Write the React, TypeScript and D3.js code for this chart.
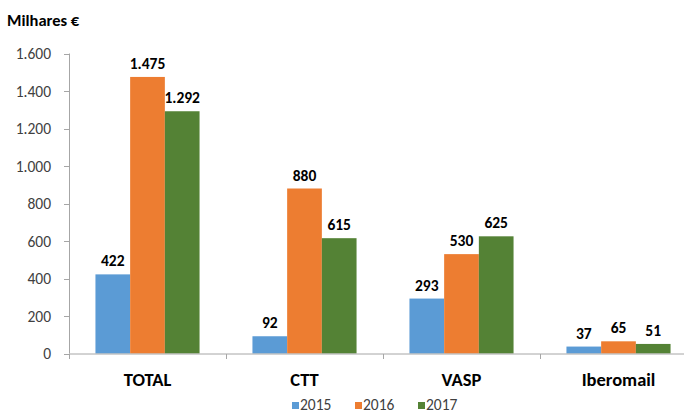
import React, { useEffect, useRef } from "react";
import * as d3 from "d3";

const categories = ["TOTAL", "CTT", "VASP", "Iberomail"];
const years = ["2015", "2016", "2017"];
const values2015 = [422, 92, 293, 37];
const values2016 = [1475, 880, 530, 65];
const values2017 = [1292, 615, 625, 51];
const yTicks = [0, 200, 400, 600, 800, 1000, 1200, 1400, 1600];
const colors = ["#5B9BD5", "#ED7D31", "#548235"];

const W = 684;
const H = 414;
const FONT = "Calibri, Carlito, Lato, 'Open Sans', 'Liberation Sans', sans-serif";

const fmt = (v: number) => d3.format(",")(v).replace(/,/g, ".");

export default function App() {
  const ref = useRef<SVGSVGElement>(null);

  useEffect(() => {
    const svg = d3.select(ref.current);
    svg.selectAll("*").remove();

    const left = 69;
    const bandW = 157;
    const x = d3.scaleBand().domain(categories).range([left, left + bandW * categories.length]);
    const y = d3.scaleLinear().domain([0, 1600]).range([353.5, 53.5]);
    const barW = 34.7;
    const x1 = d3.scaleBand().domain(years).range([0, barW * 3]);
    const series = [values2015, values2016, values2017];

    // y axis
    svg.append("line")
      .attr("x1", left + 0.5).attr("x2", left + 0.5)
      .attr("y1", y(1600)).attr("y2", y(0))
      .attr("stroke", "#A6A6A6");
    yTicks.forEach(t => {
      svg.append("line")
        .attr("x1", left - 5).attr("x2", left + 0.5)
        .attr("y1", Math.round(y(t)) + 0.5).attr("y2", Math.round(y(t)) + 0.5)
        .attr("stroke", "#A6A6A6");
      svg.append("text")
        .attr("x", 51).attr("y", y(t) + 5.5)
        .attr("text-anchor", "end")
        .attr("font-family", FONT).attr("font-size", 15.5)
        .attr("fill", "#404040")
        .text(fmt(t));
    });

    // bars
    categories.forEach((c, i) => {
      const x0 = (x(c) ?? 0) + (bandW - barW * 3) / 2;
      years.forEach((yr, j) => {
        const v = series[j][i];
        svg.append("rect")
          .attr("x", x0 + (x1(yr) ?? 0))
          .attr("y", y(v))
          .attr("width", barW)
          .attr("height", y(0) - y(v))
          .attr("fill", colors[j]);
        svg.append("text")
          .attr("x", x0 + (x1(yr) ?? 0) + barW / 2)
          .attr("y", y(v) - 8)
          .attr("text-anchor", "middle")
          .attr("font-family", FONT).attr("font-size", 15.5)
          .attr("font-weight", "bold")
          .attr("fill", "#000")
          .text(fmt(v));
      });
      svg.append("text")
        .attr("x", (x(c) ?? 0) + bandW / 2)
        .attr("y", 386)
        .attr("text-anchor", "middle")
        .attr("font-family", FONT).attr("font-size", 18.5)
        .attr("font-weight", "bold")
        .attr("fill", "#000")
        .text(c);
    });

    // x axis
    svg.append("line")
      .attr("x1", left).attr("x2", W)
      .attr("y1", 354).attr("y2", 354)
      .attr("stroke", "#A6A6A6");
    categories.forEach((c) => {
      const bx = Math.round(x(c) ?? 0) + 0.5;
      svg.append("line")
        .attr("x1", bx).attr("x2", bx)
        .attr("y1", 354).attr("y2", 359)
        .attr("stroke", "#A6A6A6");
    });

    // unit label
    svg.append("text")
      .attr("x", 7).attr("y", 26)
      .attr("font-family", FONT).attr("font-size", 16.5)
      .attr("font-weight", "bold")
      .attr("fill", "#000")
      .text("Milhares €");

    // legend
    const lx = [292, 355, 418];
    years.forEach((yr, j) => {
      svg.append("rect")
        .attr("x", lx[j]).attr("y", 402)
        .attr("width", 7).attr("height", 7)
        .attr("fill", colors[j]);
      svg.append("text")
        .attr("x", lx[j] + 8).attr("y", 409.5)
        .attr("font-family", FONT).attr("font-size", 15.5)
        .attr("fill", "#404040")
        .text(yr);
    });
  }, []);

  return (
    <svg
      ref={ref}
      width={W}
      height={H}
      style={{ position: "absolute", left: 0, top: 0, background: "#fff" }}
    />
  );
}
